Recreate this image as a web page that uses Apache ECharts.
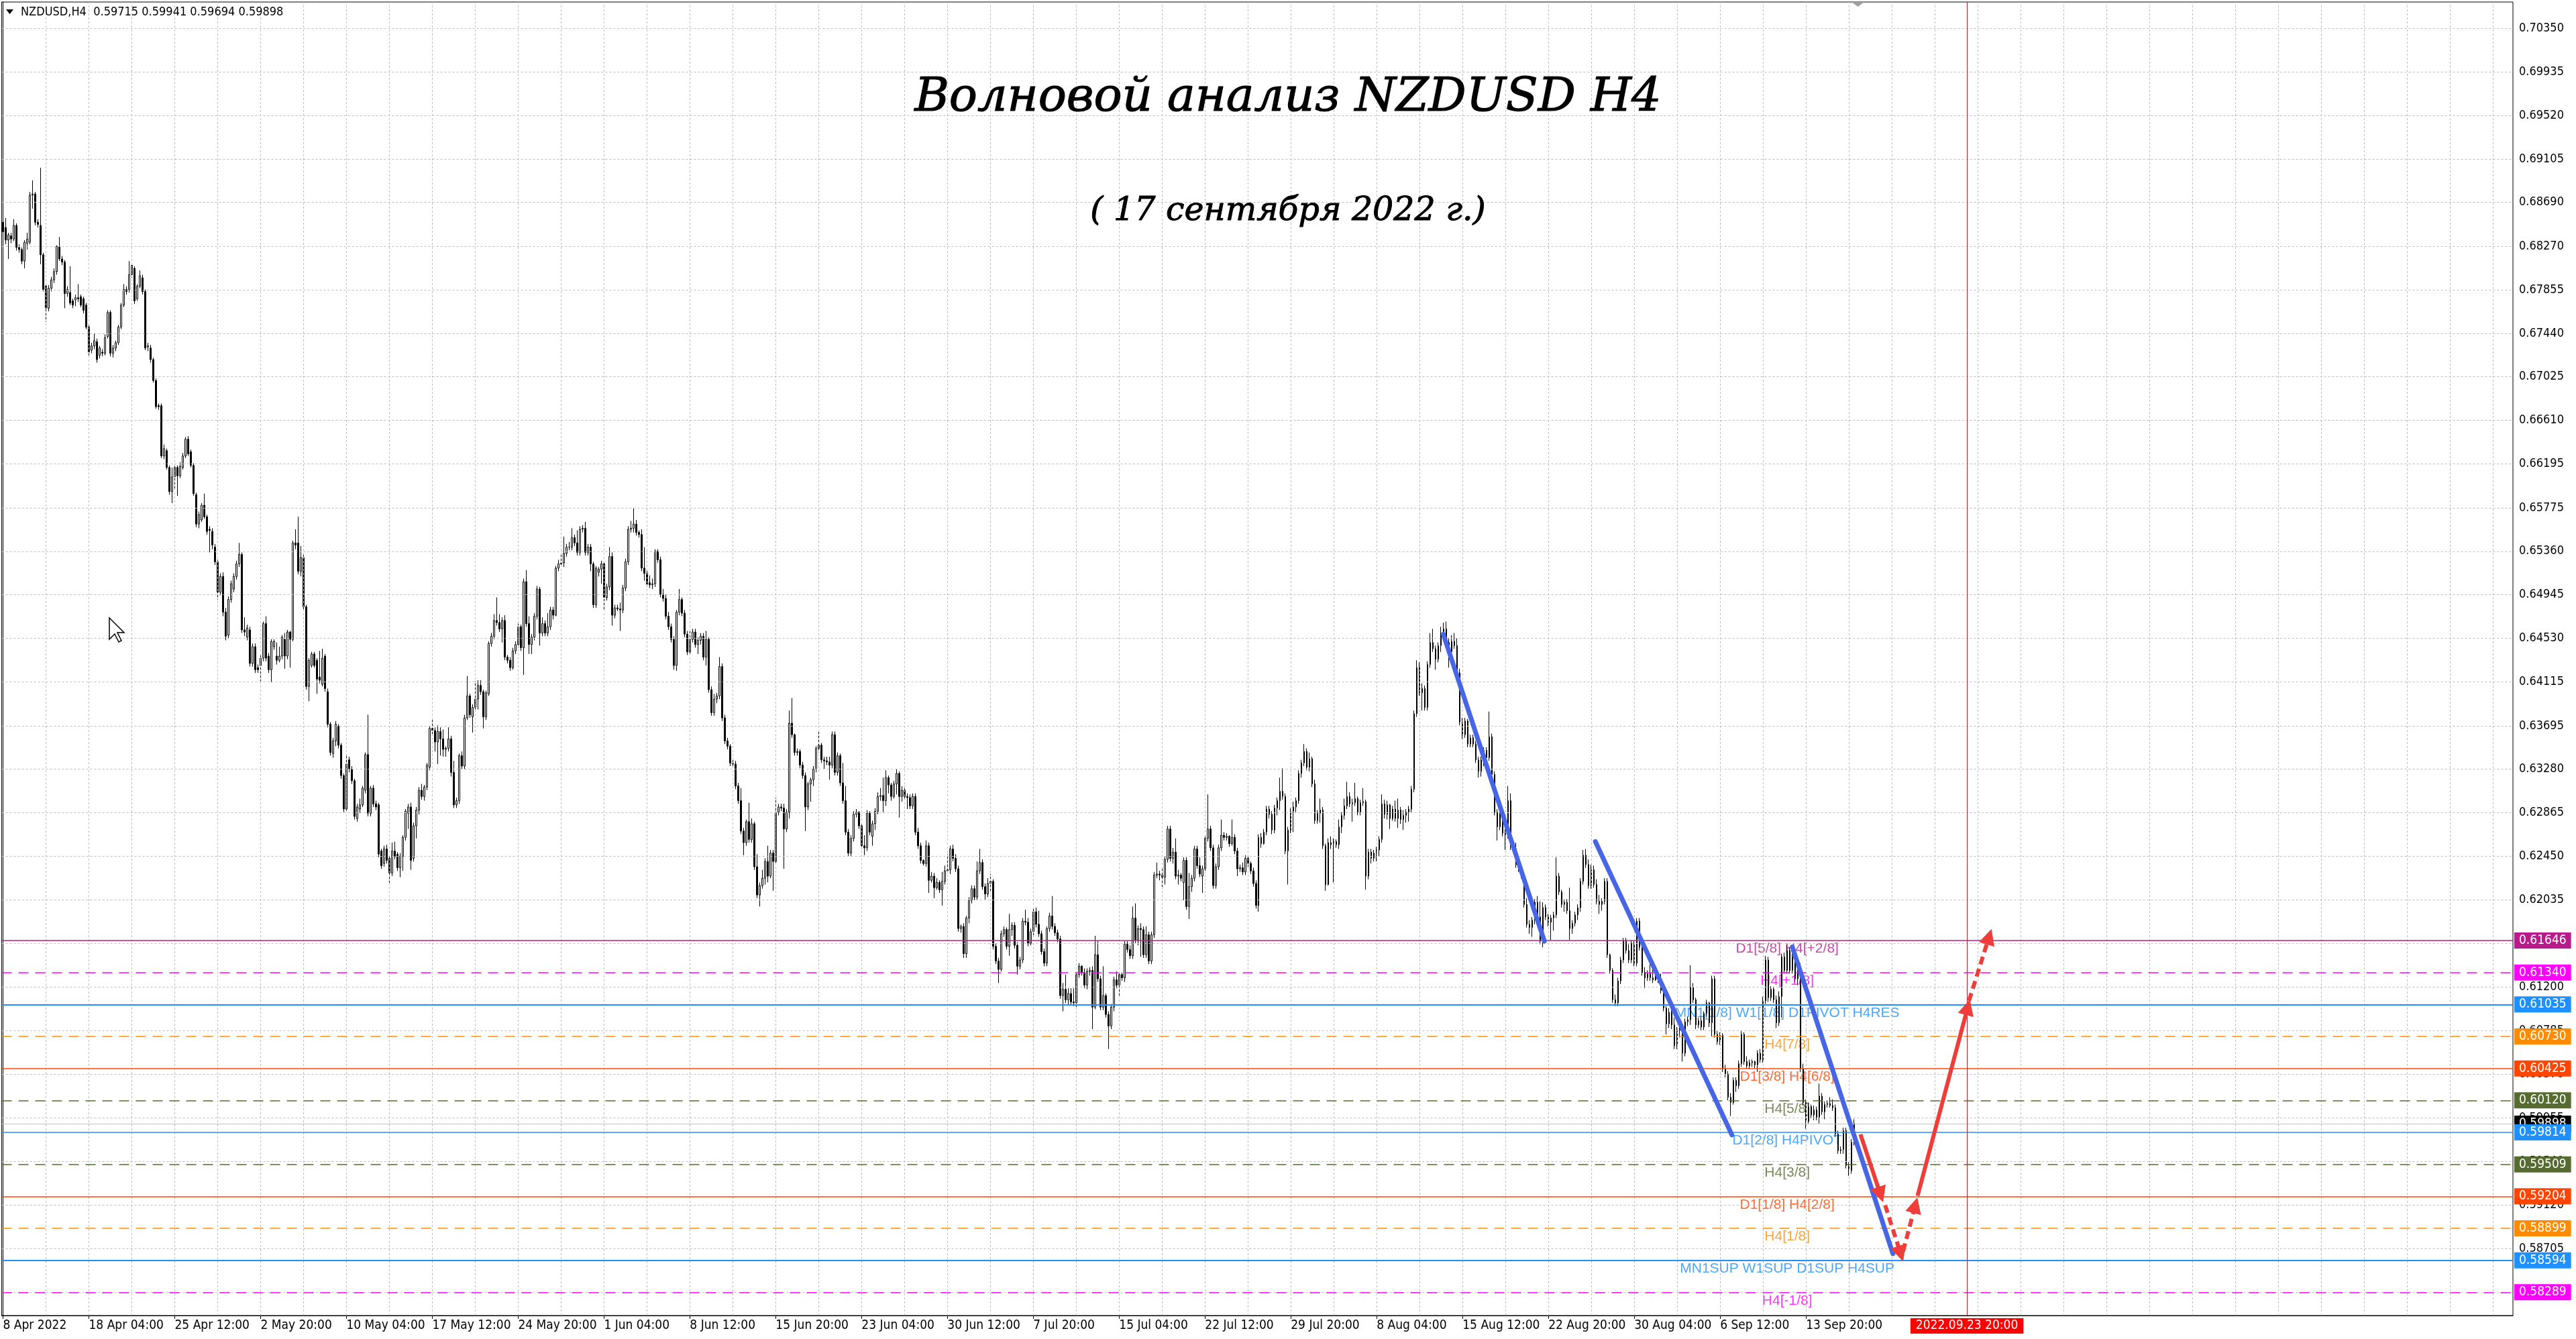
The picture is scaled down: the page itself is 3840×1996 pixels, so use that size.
<!DOCTYPE html>
<html><head><meta charset="utf-8">
<style>html,body{margin:0;padding:0;background:#fff;}#chart{width:3840px;height:1996px;}</style>
<script src="https://cdn.jsdelivr.net/npm/echarts@6/dist/echarts.min.js"></script>
</head><body><div id="chart"></div>
<script>
// ---------------- DATA ----------------
const headerText = 'NZDUSD,H4  0.59715 0.59941 0.59694 0.59898';
const titleText = 'Волновой анализ NZDUSD H4';
const subtitleText = '( 17 сентября 2022 г.)';

// H4 candles, in pips (price x 10000), bar 0 = 8 Apr 2022
const openPips = [
6850,6845,6833,6837,6834,6847,6826,6824,6813,6830,
6831,6876,6877,6850,6847,6819,6789,6768,6787,6795,
6803,6827,6815,6812,6782,6783,6775,6776,6778,6779,
6777,6771,6750,6728,6732,6736,6723,6726,6725,6741,
6764,6725,6730,6735,6750,6771,6786,6786,6800,6806,
6777,6789,6797,6784,6731,6730,6719,6699,6675,6675,
6627,6632,6616,6593,6607,6616,6608,6616,6627,6643,
6631,6618,6590,6562,6566,6580,6569,6557,6555,6540,
6526,6497,6512,6478,6456,6490,6500,6512,6524,6533,
6461,6454,6461,6429,6445,6425,6427,6434,6467,6436,
6423,6445,6436,6432,6436,6452,6436,6459,6452,6544,
6544,6517,6530,6483,6407,6427,6438,6432,6416,6409,
6436,6402,6371,6343,6355,6369,6351,6322,6290,6337,
6328,6317,6281,6290,6294,6308,6342,6286,6310,6295,
6294,6250,6238,6252,6243,6229,6250,6247,6234,6245,
6263,6286,6292,6243,6274,6289,6308,6302,6311,6330,
6367,6365,6354,6364,6357,6347,6348,6357,6325,6294,
6298,6341,6331,6377,6398,6378,6387,6395,6408,6402,
6378,6400,6448,6455,6470,6468,6462,6470,6435,6432,
6425,6441,6447,6464,6444,6507,6467,6447,6454,6474,
6500,6458,6467,6458,6464,6480,6475,6520,6524,6525,
6534,6540,6540,6549,6544,6535,6557,6558,6535,6540,
6524,6485,6516,6519,6524,6492,6502,6531,6475,6482,
6481,6480,6501,6526,6557,6558,6562,6554,6552,6520,
6515,6506,6504,6505,6536,6528,6495,6491,6474,6464,
6452,6427,6478,6490,6477,6457,6440,6452,6459,6447,
6451,6455,6435,6452,6404,6382,6395,6398,6426,6377,
6355,6350,6334,6333,6312,6298,6269,6258,6278,6261,
6276,6235,6208,6217,6224,6240,6226,6248,6240,6287,
6292,6291,6271,6287,6372,6361,6344,6345,6332,6322,
6292,6314,6318,6328,6348,6351,6337,6336,6335,6332,
6361,6325,6341,6315,6298,6268,6248,6262,6285,6287,
6274,6255,6253,6286,6264,6276,6288,6302,6303,6298,
6320,6313,6302,6314,6324,6302,6308,6302,6301,6293,
6302,6268,6255,6241,6238,6255,6222,6226,6215,6220,
6213,6221,6231,6232,6252,6243,6233,6176,6178,6152,
6186,6203,6214,6206,6231,6239,6216,6209,6219,6221,
6159,6145,6137,6171,6175,6159,6175,6179,6160,6140,
6146,6183,6182,6162,6173,6192,6180,6171,6154,6143,
6176,6188,6178,6172,6166,6112,6118,6108,6114,6106,
6105,6132,6140,6134,6122,6135,6136,6101,6151,6128,
6101,6112,6094,6083,6101,6127,6122,6132,6129,6161,
6156,6150,6186,6165,6176,6175,6151,6170,6145,6170,
6227,6228,6227,6225,6242,6271,6243,6249,6226,6227,
6220,6241,6197,6216,6224,6252,6236,6226,6233,6262,
6271,6253,6217,6235,6253,6265,6263,6264,6257,6263,
6250,6233,6234,6230,6243,6238,6231,6219,6198,6263,
6257,6268,6290,6285,6270,6291,6298,6307,6302,6250,
6270,6288,6292,6298,6324,6334,6345,6330,6338,6314,
6279,6286,6289,6255,6218,6258,6256,6259,6256,6273,
6284,6293,6302,6295,6296,6300,6287,6296,6297,6226,
6249,6243,6248,6251,6261,6295,6285,6294,6281,6290,
6281,6289,6280,6284,6287,6290,6309,6381,6425,6401,
6405,6387,6428,6449,6443,6433,6446,6456,6462,6449,
6440,6450,6446,6420,6373,6361,6374,6352,6358,6352,
6337,6326,6337,6346,6339,6359,6323,6287,6273,6287,
6267,6264,6298,6254,6252,6237,6233,6227,6199,6180,
6177,6184,6201,6187,6164,6196,6187,6182,6186,6189,
6226,6211,6199,6201,6193,6176,6181,6189,6196,6221,
6246,6237,6217,6232,6218,6202,6199,6202,6221,6151,
6136,6108,6105,6126,6146,6164,6155,6146,6162,6143,
6183,6158,6134,6129,6133,6129,6127,6131,6127,6117,
6100,6085,6096,6084,6064,6079,6080,6057,6087,6089,
6120,6108,6084,6088,6082,6095,6105,6086,6128,6075,
6068,6074,6042,6037,6015,6010,6031,6026,6047,6075,
6049,6045,6048,6049,6046,6057,6051,6107,6146,6110,
6118,6108,6086,6111,6149,6136,6155,6136,6149,6128,
6140,6042,6010,5992,6006,5998,6003,5996,6016,6001,
6008,6009,6007,6005,5980,5964,5965,5983,5950,5945,5972
];
const highPips = [
6852,6854,6840,6840,6853,6849,6829,6826,6833,6840,
6879,6890,6879,6853,6902,6821,6791,6790,6798,6806,
6828,6836,6818,6814,6789,6808,6777,6781,6791,6781,
6779,6773,6752,6735,6744,6739,6732,6729,6743,6766,
6766,6733,6737,6752,6773,6791,6789,6813,6811,6808,
6791,6804,6800,6786,6735,6733,6721,6701,6677,6677,
6638,6634,6618,6616,6619,6618,6621,6630,6645,6646,
6633,6620,6592,6574,6582,6591,6571,6560,6558,6543,
6528,6515,6516,6482,6493,6508,6515,6527,6544,6535,
6473,6466,6464,6448,6448,6428,6438,6469,6474,6439,
6452,6452,6449,6445,6456,6458,6461,6460,6546,6557,
6569,6541,6533,6485,6434,6440,6440,6434,6441,6443,
6438,6405,6373,6358,6374,6371,6353,6324,6342,6340,
6331,6319,6295,6300,6312,6344,6380,6312,6313,6298,
6296,6252,6255,6256,6245,6258,6259,6249,6248,6265,
6290,6295,6296,6277,6292,6311,6314,6313,6334,6369,
6375,6368,6370,6368,6366,6350,6368,6360,6336,6301,
6343,6345,6380,6417,6400,6390,6412,6413,6413,6404,
6403,6450,6458,6476,6492,6476,6473,6475,6437,6435,
6444,6450,6467,6466,6510,6518,6474,6457,6477,6503,
6502,6473,6470,6477,6483,6483,6522,6528,6534,6550,
6543,6545,6558,6552,6556,6560,6561,6564,6543,6543,
6526,6522,6521,6527,6526,6505,6540,6535,6485,6485,
6487,6504,6529,6560,6565,6577,6566,6556,6557,6540,
6518,6513,6510,6538,6538,6531,6500,6495,6478,6467,
6455,6480,6500,6492,6480,6460,6460,6462,6462,6454,
6458,6458,6460,6454,6407,6400,6401,6435,6429,6380,
6358,6352,6337,6336,6315,6310,6272,6280,6296,6281,
6278,6247,6220,6232,6243,6255,6251,6251,6301,6295,
6295,6295,6290,6384,6396,6362,6348,6347,6335,6325,
6316,6320,6331,6350,6364,6353,6340,6340,6340,6364,
6364,6344,6343,6334,6312,6271,6265,6288,6290,6288,
6277,6265,6289,6288,6279,6291,6306,6310,6320,6327,
6322,6315,6317,6328,6326,6312,6312,6305,6304,6305,
6305,6272,6258,6242,6260,6258,6230,6229,6224,6222,
6230,6236,6247,6255,6256,6247,6236,6180,6181,6188,
6206,6217,6217,6240,6252,6242,6219,6224,6228,6223,
6162,6148,6174,6178,6177,6190,6182,6182,6163,6149,
6186,6194,6186,6176,6195,6196,6193,6174,6157,6178,
6191,6207,6181,6175,6169,6124,6132,6119,6119,6119,
6135,6143,6141,6138,6138,6139,6140,6169,6164,6131,
6140,6114,6097,6104,6130,6135,6135,6134,6164,6164,
6160,6197,6200,6179,6181,6178,6178,6173,6173,6230,
6239,6231,6233,6245,6274,6274,6253,6262,6232,6229,
6244,6244,6229,6227,6255,6255,6244,6236,6265,6304,
6274,6256,6238,6256,6280,6268,6267,6265,6280,6266,
6253,6237,6239,6246,6246,6240,6234,6222,6266,6267,
6271,6293,6293,6288,6294,6301,6320,6329,6305,6273,
6291,6297,6301,6327,6337,6352,6348,6344,6340,6318,
6289,6300,6292,6257,6262,6264,6262,6261,6280,6287,
6300,6316,6306,6300,6315,6302,6299,6310,6299,6252,
6252,6251,6254,6264,6304,6299,6298,6295,6293,6298,
6300,6292,6289,6290,6293,6312,6384,6432,6430,6410,
6408,6431,6458,6462,6446,6449,6464,6468,6469,6453,
6456,6458,6453,6424,6377,6377,6376,6361,6361,6355,
6340,6340,6349,6349,6383,6362,6326,6290,6290,6290,
6271,6312,6305,6259,6258,6239,6236,6230,6205,6184,
6187,6204,6207,6202,6201,6199,6190,6189,6192,6244,
6229,6213,6204,6204,6215,6184,6192,6199,6224,6251,
6252,6242,6237,6236,6223,6208,6205,6224,6224,6152,
6138,6113,6129,6149,6167,6167,6161,6165,6164,6186,
6186,6161,6139,6136,6142,6139,6137,6134,6133,6121,
6102,6100,6099,6091,6082,6083,6082,6090,6092,6141,
6124,6110,6091,6092,6097,6108,6106,6131,6131,6078,
6077,6076,6046,6040,6019,6034,6034,6050,6078,6077,
6054,6051,6051,6050,6060,6061,6111,6150,6149,6121,
6120,6112,6116,6152,6153,6160,6158,6152,6151,6145,
6143,6047,6013,6010,6008,6007,6006,6028,6019,6011,
6012,6015,6013,6008,5983,5968,5986,5986,5953,5975,5994
];
const lowPips = [
6838,6829,6815,6830,6832,6823,6821,6810,6806,6824,
6829,6863,6847,6845,6810,6784,6755,6765,6784,6792,
6800,6813,6809,6768,6779,6771,6768,6770,6774,6769,
6763,6748,6723,6725,6729,6716,6720,6722,6723,6739,
6722,6721,6727,6733,6748,6769,6781,6783,6797,6772,
6775,6787,6781,6728,6727,6716,6697,6672,6671,6625,
6624,6614,6590,6582,6596,6589,6606,6614,6625,6627,
6616,6589,6559,6558,6564,6567,6552,6535,6538,6523,
6490,6494,6474,6451,6453,6487,6497,6509,6521,6458,
6455,6451,6426,6426,6420,6420,6412,6431,6431,6420,
6411,6442,6428,6430,6433,6424,6433,6425,6450,6538,
6514,6512,6480,6404,6393,6425,6425,6400,6410,6407,
6402,6368,6341,6339,6350,6348,6319,6287,6287,6325,
6314,6280,6278,6286,6292,6305,6283,6283,6292,6289,
6244,6233,6235,6238,6218,6226,6242,6231,6225,6231,
6260,6271,6232,6240,6262,6285,6299,6298,6308,6327,
6360,6345,6333,6341,6340,6340,6345,6321,6291,6291,
6295,6328,6328,6375,6377,6363,6385,6385,6399,6367,
6375,6398,6445,6452,6465,6459,6449,6432,6429,6422,
6423,6438,6444,6441,6418,6464,6438,6438,6451,6471,
6446,6455,6455,6455,6461,6471,6474,6517,6522,6521,
6531,6537,6537,6541,6532,6532,6554,6532,6532,6517,
6482,6482,6512,6505,6480,6489,6499,6465,6472,6479,
6460,6477,6498,6523,6554,6554,6551,6549,6517,6508,
6502,6501,6500,6502,6525,6492,6488,6471,6461,6449,
6423,6422,6475,6474,6454,6437,6437,6449,6444,6438,
6447,6432,6427,6401,6379,6379,6391,6395,6374,6352,
6347,6331,6330,6309,6295,6266,6246,6255,6258,6258,
6232,6205,6197,6214,6218,6220,6224,6212,6237,6284,
6288,6233,6268,6281,6358,6341,6341,6329,6319,6269,
6289,6297,6312,6325,6344,6334,6328,6332,6318,6329,
6322,6322,6312,6295,6265,6245,6245,6259,6282,6271,
6252,6246,6250,6265,6255,6270,6285,6298,6287,6293,
6305,6298,6300,6304,6282,6297,6300,6290,6290,6290,
6265,6252,6238,6236,6235,6210,6220,6205,6213,6210,
6198,6218,6229,6228,6240,6230,6173,6172,6148,6148,
6181,6200,6203,6203,6228,6213,6203,6206,6212,6156,
6142,6124,6135,6168,6156,6150,6169,6157,6132,6137,
6143,6179,6159,6160,6168,6177,6168,6151,6140,6140,
6173,6175,6169,6163,6109,6097,6105,6103,6103,6102,
6101,6129,6131,6119,6118,6131,6080,6099,6125,6098,
6098,6091,6061,6080,6097,6119,6112,6126,6125,6153,
6147,6147,6162,6160,6149,6148,6148,6142,6142,6167,
6224,6222,6215,6218,6239,6240,6238,6223,6218,6221,
6203,6194,6185,6211,6221,6233,6225,6210,6229,6259,
6250,6214,6214,6232,6250,6260,6260,6254,6255,6247,
6226,6230,6227,6227,6235,6228,6216,6195,6192,6253,
6256,6265,6281,6266,6267,6284,6289,6299,6247,6218,
6267,6268,6287,6295,6320,6331,6327,6326,6311,6276,
6276,6277,6252,6212,6217,6252,6220,6253,6252,6267,
6280,6290,6292,6278,6293,6284,6284,6293,6213,6223,
6238,6240,6240,6245,6258,6281,6280,6271,6279,6278,
6272,6276,6270,6277,6278,6287,6306,6378,6398,6384,
6384,6384,6425,6440,6423,6430,6440,6450,6446,6425,
6437,6443,6417,6370,6357,6358,6349,6349,6349,6334,
6320,6321,6331,6336,6336,6320,6284,6260,6270,6264,
6251,6262,6251,6249,6234,6230,6224,6196,6177,6171,
6168,6180,6184,6161,6158,6184,6178,6165,6174,6186,
6208,6196,6192,6190,6165,6171,6178,6184,6192,6218,
6234,6214,6214,6215,6199,6190,6193,6199,6148,6133,
6105,6102,6102,6123,6143,6152,6143,6143,6140,6140,
6155,6131,6119,6126,6126,6124,6126,6124,6114,6097,
6075,6081,6080,6061,6061,6072,6049,6054,6083,6084,
6105,6080,6081,6079,6079,6092,6082,6073,6072,6065,
6065,6039,6034,6012,5997,6008,6020,6023,6044,6046,
6042,6042,6044,6043,6039,6048,6048,6104,6106,6107,
6105,6081,6083,6091,6133,6133,6133,6133,6125,6122,
6039,6007,5985,5990,5995,5993,5993,5990,5998,5994,
6005,6005,6002,5977,5961,5961,5961,5947,5940,5942,5969
];
const closePips = [
6841,6833,6838,6834,6847,6826,6824,6813,6831,6834,
6876,6877,6850,6848,6819,6786,6768,6787,6795,6803,
6827,6815,6812,6782,6786,6773,6771,6778,6777,6771,
6766,6750,6726,6732,6737,6719,6730,6725,6740,6764,
6725,6730,6735,6750,6771,6786,6784,6800,6809,6775,
6789,6799,6784,6730,6732,6719,6699,6674,6674,6627,
6634,6616,6593,6607,6616,6608,6617,6627,6643,6629,
6618,6591,6562,6571,6580,6569,6555,6556,6542,6526,
6497,6512,6478,6455,6490,6505,6512,6524,6533,6461,
6459,6463,6429,6445,6423,6423,6434,6467,6434,6423,
6450,6450,6432,6436,6454,6436,6459,6452,6544,6542,
6517,6530,6483,6407,6432,6438,6427,6414,6413,6434,
6405,6371,6344,6355,6371,6351,6322,6290,6333,6328,
6317,6283,6292,6294,6310,6342,6286,6310,6295,6292,
6247,6236,6252,6241,6229,6250,6245,6234,6245,6263,
6288,6292,6241,6274,6289,6308,6302,6311,6332,6367,
6365,6354,6364,6357,6347,6348,6357,6325,6294,6298,
6341,6331,6377,6398,6380,6387,6395,6408,6402,6378,
6401,6448,6455,6470,6468,6462,6470,6435,6432,6425,
6441,6447,6464,6444,6507,6467,6447,6454,6474,6500,
6458,6467,6458,6464,6480,6475,6520,6524,6525,6534,
6540,6540,6549,6544,6535,6557,6558,6535,6540,6524,
6485,6520,6519,6524,6492,6502,6531,6475,6482,6481,
6480,6501,6526,6557,6558,6562,6554,6552,6520,6515,
6505,6504,6505,6536,6528,6495,6491,6474,6464,6452,
6427,6478,6490,6477,6457,6440,6452,6459,6447,6451,
6455,6435,6452,6404,6382,6395,6398,6426,6377,6355,
6350,6334,6333,6312,6298,6269,6258,6278,6261,6276,
6235,6208,6217,6224,6240,6226,6248,6240,6287,6292,
6291,6271,6287,6372,6361,6344,6345,6332,6322,6292,
6314,6318,6328,6348,6351,6337,6336,6335,6332,6361,
6325,6341,6315,6298,6268,6248,6262,6285,6287,6274,
6255,6253,6286,6268,6276,6288,6302,6303,6298,6320,
6313,6302,6314,6324,6302,6308,6302,6301,6293,6302,
6268,6255,6241,6238,6255,6222,6226,6215,6220,6213,
6221,6231,6232,6252,6243,6233,6176,6178,6152,6186,
6203,6214,6206,6231,6239,6216,6209,6219,6221,6159,
6145,6137,6171,6175,6159,6175,6179,6160,6140,6146,
6183,6182,6162,6173,6192,6180,6171,6154,6143,6176,
6188,6178,6172,6166,6112,6118,6108,6114,6106,6105,
6132,6140,6134,6122,6135,6136,6101,6151,6128,6101,
6112,6094,6083,6101,6127,6122,6132,6129,6161,6156,
6150,6186,6165,6176,6175,6151,6170,6145,6170,6227,
6228,6227,6225,6242,6271,6243,6249,6226,6227,6224,
6241,6197,6216,6224,6252,6236,6228,6233,6262,6271,
6253,6217,6235,6253,6265,6263,6264,6257,6263,6250,
6233,6234,6230,6243,6238,6231,6219,6198,6263,6257,
6268,6290,6285,6270,6291,6298,6307,6302,6250,6270,
6288,6292,6298,6324,6334,6345,6330,6338,6314,6279,
6286,6289,6255,6218,6258,6256,6259,6256,6273,6284,
6293,6302,6295,6296,6300,6287,6296,6297,6226,6249,
6243,6248,6251,6261,6295,6285,6294,6281,6290,6281,
6289,6280,6284,6287,6290,6309,6381,6425,6401,6405,
6387,6428,6449,6443,6433,6446,6456,6462,6449,6440,
6450,6446,6420,6373,6361,6374,6352,6358,6352,6337,
6326,6337,6346,6339,6359,6323,6287,6273,6287,6267,
6264,6298,6254,6252,6237,6233,6227,6199,6180,6177,
6184,6201,6187,6164,6196,6187,6182,6186,6189,6226,
6211,6199,6201,6193,6176,6181,6189,6196,6221,6246,
6237,6217,6232,6218,6202,6199,6202,6221,6151,6136,
6108,6105,6126,6146,6164,6155,6146,6162,6143,6183,
6158,6134,6129,6133,6129,6127,6131,6127,6117,6100,
6085,6096,6084,6064,6079,6080,6057,6087,6089,6120,
6108,6084,6088,6082,6095,6105,6086,6128,6075,6068,
6074,6042,6037,6015,6010,6031,6026,6047,6075,6049,
6045,6048,6049,6046,6057,6051,6107,6146,6110,6118,
6108,6086,6111,6149,6136,6155,6136,6149,6128,6140,
6042,6010,5992,6006,5998,6003,5996,6016,6001,6008,
6009,6007,6005,5980,5964,5965,5983,5950,5945,5972,5990
];

// time axis labels every 32 bars (bar 0, 32, 64, ...)
const xLabels = ['8 Apr 2022','18 Apr 04:00','25 Apr 12:00','2 May 20:00','10 May 04:00','17 May 12:00',
  '24 May 20:00','1 Jun 04:00','8 Jun 12:00','15 Jun 20:00','23 Jun 04:00','30 Jun 12:00','7 Jul 20:00',
  '15 Jul 04:00','22 Jul 12:00','29 Jul 20:00','8 Aug 04:00','15 Aug 12:00','22 Aug 20:00','30 Aug 04:00',
  '6 Sep 12:00','13 Sep 20:00'];
const xLabelEvery = 32;
const gridEvery = 16;
const totalSlots = 936;

// price scale tick labels
const priceTicks = ['0.70350','0.69935','0.69520','0.69105','0.68690','0.68270','0.67855','0.67440',
  '0.67025','0.66610','0.66195','0.65775','0.65360','0.64945','0.64530','0.64115','0.63695','0.63280',
  '0.62865','0.62450','0.62035','0.61620','0.61200','0.60785','0.60370','0.59955','0.59540','0.59120',
  '0.58705','0.58290'];

// Murrey / pivot levels
const levelPrices = [0.61646,0.61340,0.61035,0.60730,0.60425,0.60120,0.59814,0.59509,0.59204,0.58899,0.58594,0.58289];
const levelNames = ['D1[5/8] H4[+2/8]','H4[+1/8]','MN1[1/8] W1[1/8] D1PIVOT H4RES','H4[7/8]','D1[3/8] H4[6/8]',
  'H4[5/8]','D1[2/8] H4PIVOT','H4[3/8]','D1[1/8] H4[2/8]','H4[1/8]','MN1SUP W1SUP D1SUP H4SUP','H4[-1/8]'];
const levelLabelBar = 665;
const bidPrice = 0.59898;
const forecastBar = 732;
const forecastLabel = '2022.09.23 20:00';

// wave analysis drawings, [bar, price]
const waveLines = [
  [[536.8,0.64570],[574.5,0.61640]],
  [[593.5,0.62590],[644.4,0.59790]],
  [[666.9,0.61584],[704.4,0.58656]]
];
const forecastArrows = [
  [[692.3,0.59796],[699.8,0.59220]],
  [[701.5,0.59120],[707.3,0.58656]],
  [[708.2,0.58680],[712.75,0.59120]],
  [[713.6,0.59210],[732.3,0.61010]],
  [[732.75,0.61070],[740.25,0.61682]]
];

// ---------------- STYLE ----------------
const levelColors = ['#B81C8C','#FF00FF','#1E90FF','#FF8C00','#FF4500','#556B2F','#1E90FF','#556B2F','#FF4500','#FF8C00','#1E90FF','#FF00FF'];
const levelDashed = [false,true,false,true,false,true,false,true,false,true,false,true];
const levelWidths = [1.5,1.5,2.2,1.5,1.5,1.5,1.5,1.5,1.5,1.5,2.2,1.5];
const arrowDashed = [false,true,true,false,true];
const NARROW = '"DejaVu Sans Condensed","Liberation Sans Narrow",sans-serif';
const yMax = 0.706022, yMin = 0.580667;

// ---------------- BUILD ----------------
const cats = Array.from({length: totalSlots}, (_, i) => String(i));
const candles = openPips.map((o, i) => [o / 1e4, closePips[i] / 1e4, lowPips[i] / 1e4, highPips[i] / 1e4]);
const isLabelIdx = (i) => i % xLabelEvery === 0 && (i / xLabelEvery) < xLabels.length;

const hGrid = priceTicks.map(t => ({
  yAxis: parseFloat(t),
  label: {show: true, position: 'end', formatter: t, distance: 9, color: '#000', fontFamily: NARROW, fontSize: 18}
}));
const vGrid = [];
for (let i = gridEvery; i < totalSlots; i += gridEvery) vGrid.push({xAxis: i, label: {show: false}});

const boxLabel = (txt, bg) => ({show: true, position: 'end', formatter: txt, distance: 2, color: '#fff',
  backgroundColor: bg, padding: [3, 7, 3, 7], lineHeight: 18, fontFamily: NARROW, fontSize: 19});

const levelLines = levelPrices.map((p, k) => ({
  yAxis: p,
  lineStyle: {color: levelColors[k], width: levelWidths[k], type: levelDashed[k] ? [15, 10] : 'solid'},
  label: boxLabel(p.toFixed(5), levelColors[k])
}));

const levelTexts = levelPrices.map((p, k) => ({
  value: [levelLabelBar, p],
  label: {color: levelColors[k], formatter: levelNames[k]}
}));

const helper = (extra) => Object.assign({type: 'line', xAxisIndex: 1, yAxisIndex: 0, data: [], silent: true,
  clip: false, symbol: 'none', animation: false}, extra);
const ml = (data, extra) => Object.assign({silent: true, symbol: ['none', 'none'], animation: false, precision: 8, data: data}, extra || {});

const option = {
  animation: false,
  backgroundColor: '#fff',
  grid: {left: 2.5, right: 94, top: 3, bottom: 35, show: true, borderColor: '#000', borderWidth: 1, backgroundColor: '#fff'},
  xAxis: [
    {type: 'category', data: cats, boundaryGap: true,
      axisLine: {show: true, lineStyle: {color: '#000', width: 1}},
      axisTick: {show: true, alignWithLabel: true, interval: (i) => isLabelIdx(i), length: 5, lineStyle: {color: '#000'}},
      axisLabel: {show: true, interval: (i) => isLabelIdx(i), formatter: (v, i) => isLabelIdx(i) ? xLabels[i / xLabelEvery] : '',
        align: 'left', color: '#000', fontFamily: NARROW, fontSize: 19, margin: 6},
      splitLine: {show: false}},
    {type: 'value', min: -0.5, max: totalSlots - 0.5, show: false}
  ],
  yAxis: {type: 'value', min: yMin, max: yMax, position: 'right', scale: true,
    axisLine: {show: true, lineStyle: {color: '#000'}}, axisTick: {show: false}, axisLabel: {show: false}, splitLine: {show: false}},
  series: [
    helper({z: 1, markLine: ml(hGrid.concat(vGrid), {lineStyle: {color: '#bdbdbd', type: [3, 3], width: 1}, label: {show: false}})}),
    helper({z: 2, markLine: ml([{yAxis: bidPrice, lineStyle: {color: '#c0c0c0', type: 'solid', width: 1},
        label: boxLabel(bidPrice.toFixed(5), '#000')}])}),
    helper({z: 2, markLine: ml(levelLines)}),
    {type: 'scatter', xAxisIndex: 1, yAxisIndex: 0, z: 2, silent: true, symbolSize: 2, itemStyle: {color: 'rgba(0,0,0,0)'},
      label: {show: true, position: 'bottom', distance: 1, fontFamily: '"Liberation Sans", Arial, sans-serif', fontSize: 21},
      data: levelTexts},
    {type: 'candlestick', xAxisIndex: 0, yAxisIndex: 0, z: 3, silent: true, large: false, progressive: 0,
      barWidth: 2, data: candles,
      itemStyle: {color: '#fff', color0: '#000', borderColor: '#000', borderColor0: '#000', borderColorDoji: '#000', borderWidth: 1}},
    helper({z: 4, markLine: ml([{xAxis: forecastBar, lineStyle: {color: '#C81E32', type: 'solid', width: 1},
        label: {show: true, position: 'start', formatter: forecastLabel, distance: 4, color: '#fff', backgroundColor: '#FF0000',
          padding: [2, 8, 2, 8], lineHeight: 19, fontFamily: NARROW, fontSize: 19}}])}),
    {type: 'lines', coordinateSystem: 'cartesian2d', xAxisIndex: 1, yAxisIndex: 0, z: 5, silent: true,
      symbol: ['none', 'none'], lineStyle: {color: '#4766E6', width: 7, cap: 'round', opacity: 1},
      data: waveLines.map(c => ({coords: c}))},
    {type: 'lines', coordinateSystem: 'cartesian2d', xAxisIndex: 1, yAxisIndex: 0, z: 6, silent: true,
      symbol: ['none', 'triangle'], symbolSize: [18, 24],
      lineStyle: {color: '#EF3E3A', width: 6, opacity: 1},
      itemStyle: {color: '#EF3E3A'},
      data: forecastArrows.map((c, k) => ({coords: c, lineStyle: {type: arrowDashed[k] ? [12, 7] : 'solid'}}))}
  ],
  graphic: [
    {type: 'polygon', z: 100, shape: {points: [[9, 14], [20, 14], [14.5, 21]]}, style: {fill: '#000'}},
    {type: 'text', z: 100, x: 31, y: 18, style: {text: headerText, font: '18px ' + NARROW, fill: '#000', textVerticalAlign: 'middle'}},
    {type: 'polygon', z: 100, shape: {points: [[2760, 3], [2779, 3], [2769.5, 10]]}, style: {fill: '#a0a0a0'}},
    {type: 'text', z: 100, x: 1920, y: 147, style: {text: titleText, font: 'italic 70px "DejaVu Serif", serif', fill: '#000',
      textAlign: 'center', textVerticalAlign: 'middle', stroke: '#000', lineWidth: 1.2,
      shadowColor: 'rgba(0,0,0,0.45)', shadowBlur: 6, shadowOffsetX: 4, shadowOffsetY: 5}},
    {type: 'text', z: 100, x: 1920, y: 315, style: {text: subtitleText, font: 'italic 49px "DejaVu Serif", serif', fill: '#000',
      textAlign: 'center', textVerticalAlign: 'middle', stroke: '#000', lineWidth: 1,
      shadowColor: 'rgba(0,0,0,0.45)', shadowBlur: 5, shadowOffsetX: 3, shadowOffsetY: 4}},
    {type: 'polygon', z: 100, shape: {points: [[163, 921], [163, 953], [171, 945], [177, 957], [181, 955], [175, 943], [185, 943]]},
      style: {fill: '#fff', stroke: '#000', lineWidth: 1.5}}
  ]
};

const chart = echarts.init(document.getElementById('chart'), null, {renderer: 'canvas', width: 3840, height: 1996});
chart.setOption(option);
</script>
</body></html>
